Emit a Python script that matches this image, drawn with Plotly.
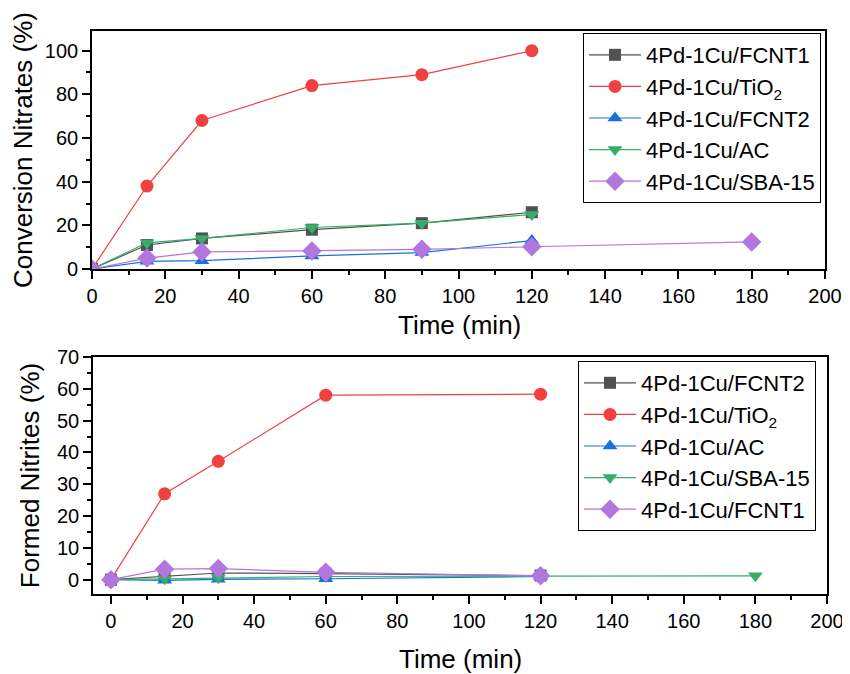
import plotly.graph_objects as go

# ---------------- data ----------------
# Top panel: nitrate conversion (%)
time_top = [0, 15, 30, 60, 90, 120]
time_sba_top = [0, 15, 30, 60, 90, 120, 180]
conv_fcnt1 = [0, 11, 14, 18, 21, 26]
conv_tio2 = [0, 38, 68, 84, 89, 100]
conv_fcnt2 = [0, 3.5, 3.8, 6, 7.5, 13]
conv_ac = [0, 12, 14, 19, 21, 25]
conv_sba15 = [0, 5, 7.8, 8.3, 9, 10.2, 12.4]

# Bottom panel: formed nitrites (%)
time_bot = [0, 15, 30, 60, 120]
time_bot_ext = [0, 15, 30, 60, 120, 180]
nit_fcnt2 = [0, 1.0, 2.1, 1.9, 1.3]
nit_tio2 = [0, 27, 37.2, 58, 58.3]
nit_ac = [0, -0.2, 0.1, 0.3, 1.0]
nit_sba15 = [0, 0.3, 0.6, 1.0, 1.1, 1.2]
nit_fcnt1 = [0, 3.3, 3.5, 2.3, 1.2]

top_labels = ["4Pd-1Cu/FCNT1", "4Pd-1Cu/TiO<sub>2</sub>", "4Pd-1Cu/FCNT2",
              "4Pd-1Cu/AC", "4Pd-1Cu/SBA-15"]
bot_labels = ["4Pd-1Cu/FCNT2", "4Pd-1Cu/TiO<sub>2</sub>", "4Pd-1Cu/AC",
              "4Pd-1Cu/SBA-15", "4Pd-1Cu/FCNT1"]
x_title = "Time (min)"

colors = ["#515151", "#F14040", "#1A6FDF", "#37AD6B", "#B177DE"]
symbols = ["square", "circle", "triangle-up", "triangle-down", "diamond"]
msizes = [12, 13, 13, 13, 15]

FONT = "Liberation Sans, Arial, sans-serif"

fig = go.Figure()

top_x = [time_top, time_top, time_top, time_top, time_sba_top]
top_y = [conv_fcnt1, conv_tio2, conv_fcnt2, conv_ac, conv_sba15]
for i in range(5):
    fig.add_trace(go.Scatter(
        x=top_x[i], y=top_y[i], name=top_labels[i], mode="lines+markers",
        line=dict(color=colors[i], width=1.2),
        marker=dict(symbol=symbols[i], size=msizes[i], color=colors[i]),
        xaxis="x", yaxis="y", legend="legend"))

bot_x = [time_bot, time_bot, time_bot, time_bot_ext, time_bot]
bot_y = [nit_fcnt2, nit_tio2, nit_ac, nit_sba15, nit_fcnt1]
for i in range(5):
    fig.add_trace(go.Scatter(
        x=bot_x[i], y=bot_y[i], name=bot_labels[i], mode="lines+markers",
        line=dict(color=colors[i], width=1.2),
        marker=dict(symbol=symbols[i], size=msizes[i], color=colors[i]),
        xaxis="x2", yaxis="y2", legend="legend2"))

# page has an 8px body margin at the top-left
OFF = 8
W, H = 850 - OFF, 674 - OFF

def fx(px):
    return (px - OFF) / W

def fy(py):
    return (H - (py - OFF)) / H

axis_common = dict(
    showline=True, linecolor="black", linewidth=1.6, mirror=True,
    ticks="outside", ticklen=8, tickwidth=1.6, tickcolor="black",
    showgrid=False, zeroline=False, automargin=False,
    ticklabeloverflow="allow",
    tickfont=dict(family=FONT, size=20, color="black"),
    title_font=dict(family=FONT, size=26, color="black"),
)

minor10 = dict(ticks="outside", ticklen=4, tickwidth=1.6, dtick=10, tickcolor="black")
minor5 = dict(ticks="outside", ticklen=4, tickwidth=1.6, dtick=5, tickcolor="black")

legend_style = dict(xanchor="left", yanchor="top",
                    bgcolor="white", bordercolor="black", borderwidth=1,
                    font=dict(family=FONT, size=22, color="black"),
                    itemwidth=52, tracegroupgap=0)

fig.update_layout(
    width=W, height=H,
    margin=dict(l=0, r=0, t=0, b=0),
    paper_bgcolor="white", plot_bgcolor="white",
    font=dict(family=FONT, color="black"),
    xaxis=dict(axis_common, domain=[fx(92), fx(825)], range=[0, 200],
               dtick=20, anchor="y", minor=minor10),
    yaxis=dict(axis_common, domain=[fy(269), fy(31)], range=[0, 109],
               dtick=20, anchor="x", minor=minor10,
               title=dict(text="Conversion Nitrates (%)", standoff=8)),
    xaxis2=dict(axis_common, domain=[fx(93), fx(827)], range=[-5, 200],
                dtick=20, tick0=0, anchor="y2", minor=minor10),
    yaxis2=dict(axis_common, domain=[fy(594), fy(357)], range=[-4.5, 70],
                dtick=10, tick0=0, anchor="x2", minor=minor5,
                title=dict(text="Formed Nitrites (%)", standoff=10)),
    legend=dict(legend_style, x=fx(583), y=fy(33)),
    legend2=dict(legend_style, x=fx(578), y=fy(361)),
    annotations=[
        dict(text=x_title, xref="paper", yref="paper",
             x=fx(459), y=fy(325), xanchor="center", yanchor="middle",
             showarrow=False, font=dict(family=FONT, size=26, color="black")),
        dict(text=x_title, xref="paper", yref="paper",
             x=fx(460), y=fy(659), xanchor="center", yanchor="middle",
             showarrow=False, font=dict(family=FONT, size=26, color="black")),
    ],
)

fig.write_html("out.html")
